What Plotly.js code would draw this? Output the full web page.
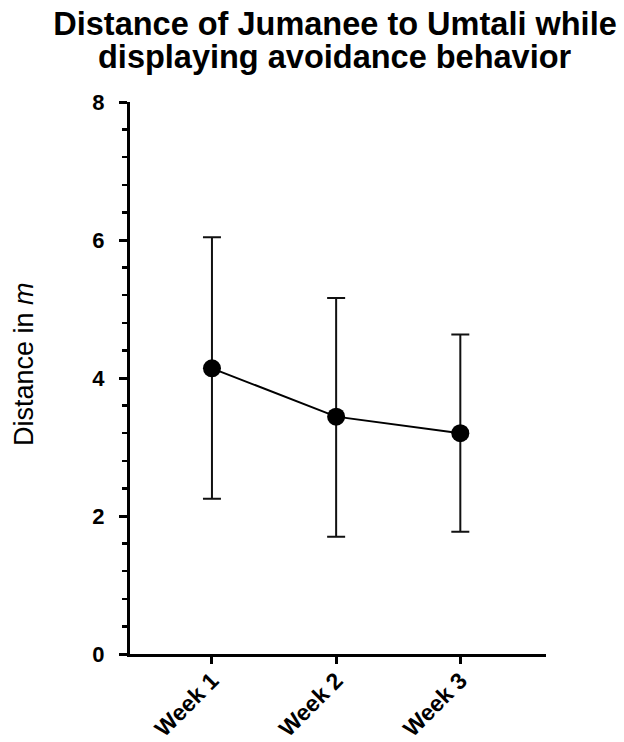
<!DOCTYPE html>
<html>
<head>
<meta charset="utf-8">
<script src="https://cdn.plot.ly/plotly-3.0.1.min.js"></script>
<style>html,body{margin:0;padding:0;background:#fff;}#chart{width:624px;height:742px;}</style>
</head>
<body>
<div id="chart"></div>
<script>
const categories = ["Week 1", "Week 2", "Week 3"];
const meanDistance = [4.14, 3.44, 3.20];
const upperBound = [6.04, 5.16, 4.63];
const lowerBound = [2.25, 1.70, 1.77];
const yTickValues = [0, 2, 4, 6, 8];
const titleLines = ["Distance of Jumanee to Umtali while", "displaying avoidance behavior"];
const yTitle = "Distance in <i>m</i>";

const xPos = categories.map((c, i) => i);
const errPlus = upperBound.map((u, i) => u - meanDistance[i]);
const errMinus = lowerBound.map((l, i) => meanDistance[i] - l);

const FONT = "Arial, 'Liberation Sans', Helvetica, sans-serif";

const trace = {
  x: xPos,
  y: meanDistance,
  type: "scatter",
  mode: "lines+markers",
  line: {color: "#000", width: 2},
  marker: {color: "#000", size: 18, symbol: "circle"},
  error_y: {
    type: "data", symmetric: false,
    array: errPlus, arrayminus: errMinus,
    color: "#111", thickness: 2, width: 9
  },
  hoverinfo: "skip",
  showlegend: false
};

const layout = {
  width: 624, height: 742,
  margin: {l: 130, r: 78, t: 102, b: 88},
  paper_bgcolor: "#fff", plot_bgcolor: "#fff",
  font: {family: FONT, color: "#000"},
  title: {
    text: "<b>" + titleLines[0] + "</b>",
    font: {family: FONT, size: 32.5, color: "#000"},
    xref: "paper", x: 0.4928, xanchor: "center",
    yref: "container", y: 1 - 24/742, yanchor: "middle"
  },
  annotations: [
    {
      text: "<b>" + titleLines[1] + "</b>",
      font: {family: FONT, size: 32.5, color: "#000"},
      xref: "paper", x: 0.4928, xanchor: "center",
      yref: "paper", y: (654 - 57) / 552, yanchor: "middle",
      showarrow: false
    },
    {
      text: yTitle,
      font: {family: FONT, size: 27, color: "#000"},
      textangle: -90,
      xref: "paper", x: (24 - 130) / 416, xanchor: "center",
      yref: "paper", y: (654 - 364) / 552, yanchor: "middle",
      showarrow: false
    }
  ],
  xaxis: {
    range: [-0.66, 2.69],
    tickmode: "array", tickvals: xPos, ticktext: categories,
    tickangle: -45,
    ticks: "outside", ticklen: 7, tickwidth: 3, tickcolor: "#000",
    showline: true, linecolor: "#000", linewidth: 3,
    showgrid: false, zeroline: false,
    ticklabelstandoff: -6,
    tickfont: {family: FONT, size: 23, color: "#000", weight: "bold"},
    fixedrange: true
  },
  yaxis: {
    range: [0, 8],
    tickmode: "array", tickvals: yTickValues, ticktext: yTickValues.map(String),
    ticks: "outside", ticklen: 8, tickwidth: 3, tickcolor: "#000",
    minor: {dtick: 0.4, tick0: 0, ticks: "outside", ticklen: 5, tickwidth: 2.5, tickcolor: "#000", showgrid: false},
    showline: true, linecolor: "#000", linewidth: 3,
    showgrid: false, zeroline: false,
    ticklabelstandoff: 10,
    tickfont: {family: FONT, size: 22, color: "#000", weight: "bold"},
    fixedrange: true
  }
};

Plotly.newPlot("chart", [trace], layout, {displayModeBar: false, staticPlot: true});
</script>
</body>
</html>
